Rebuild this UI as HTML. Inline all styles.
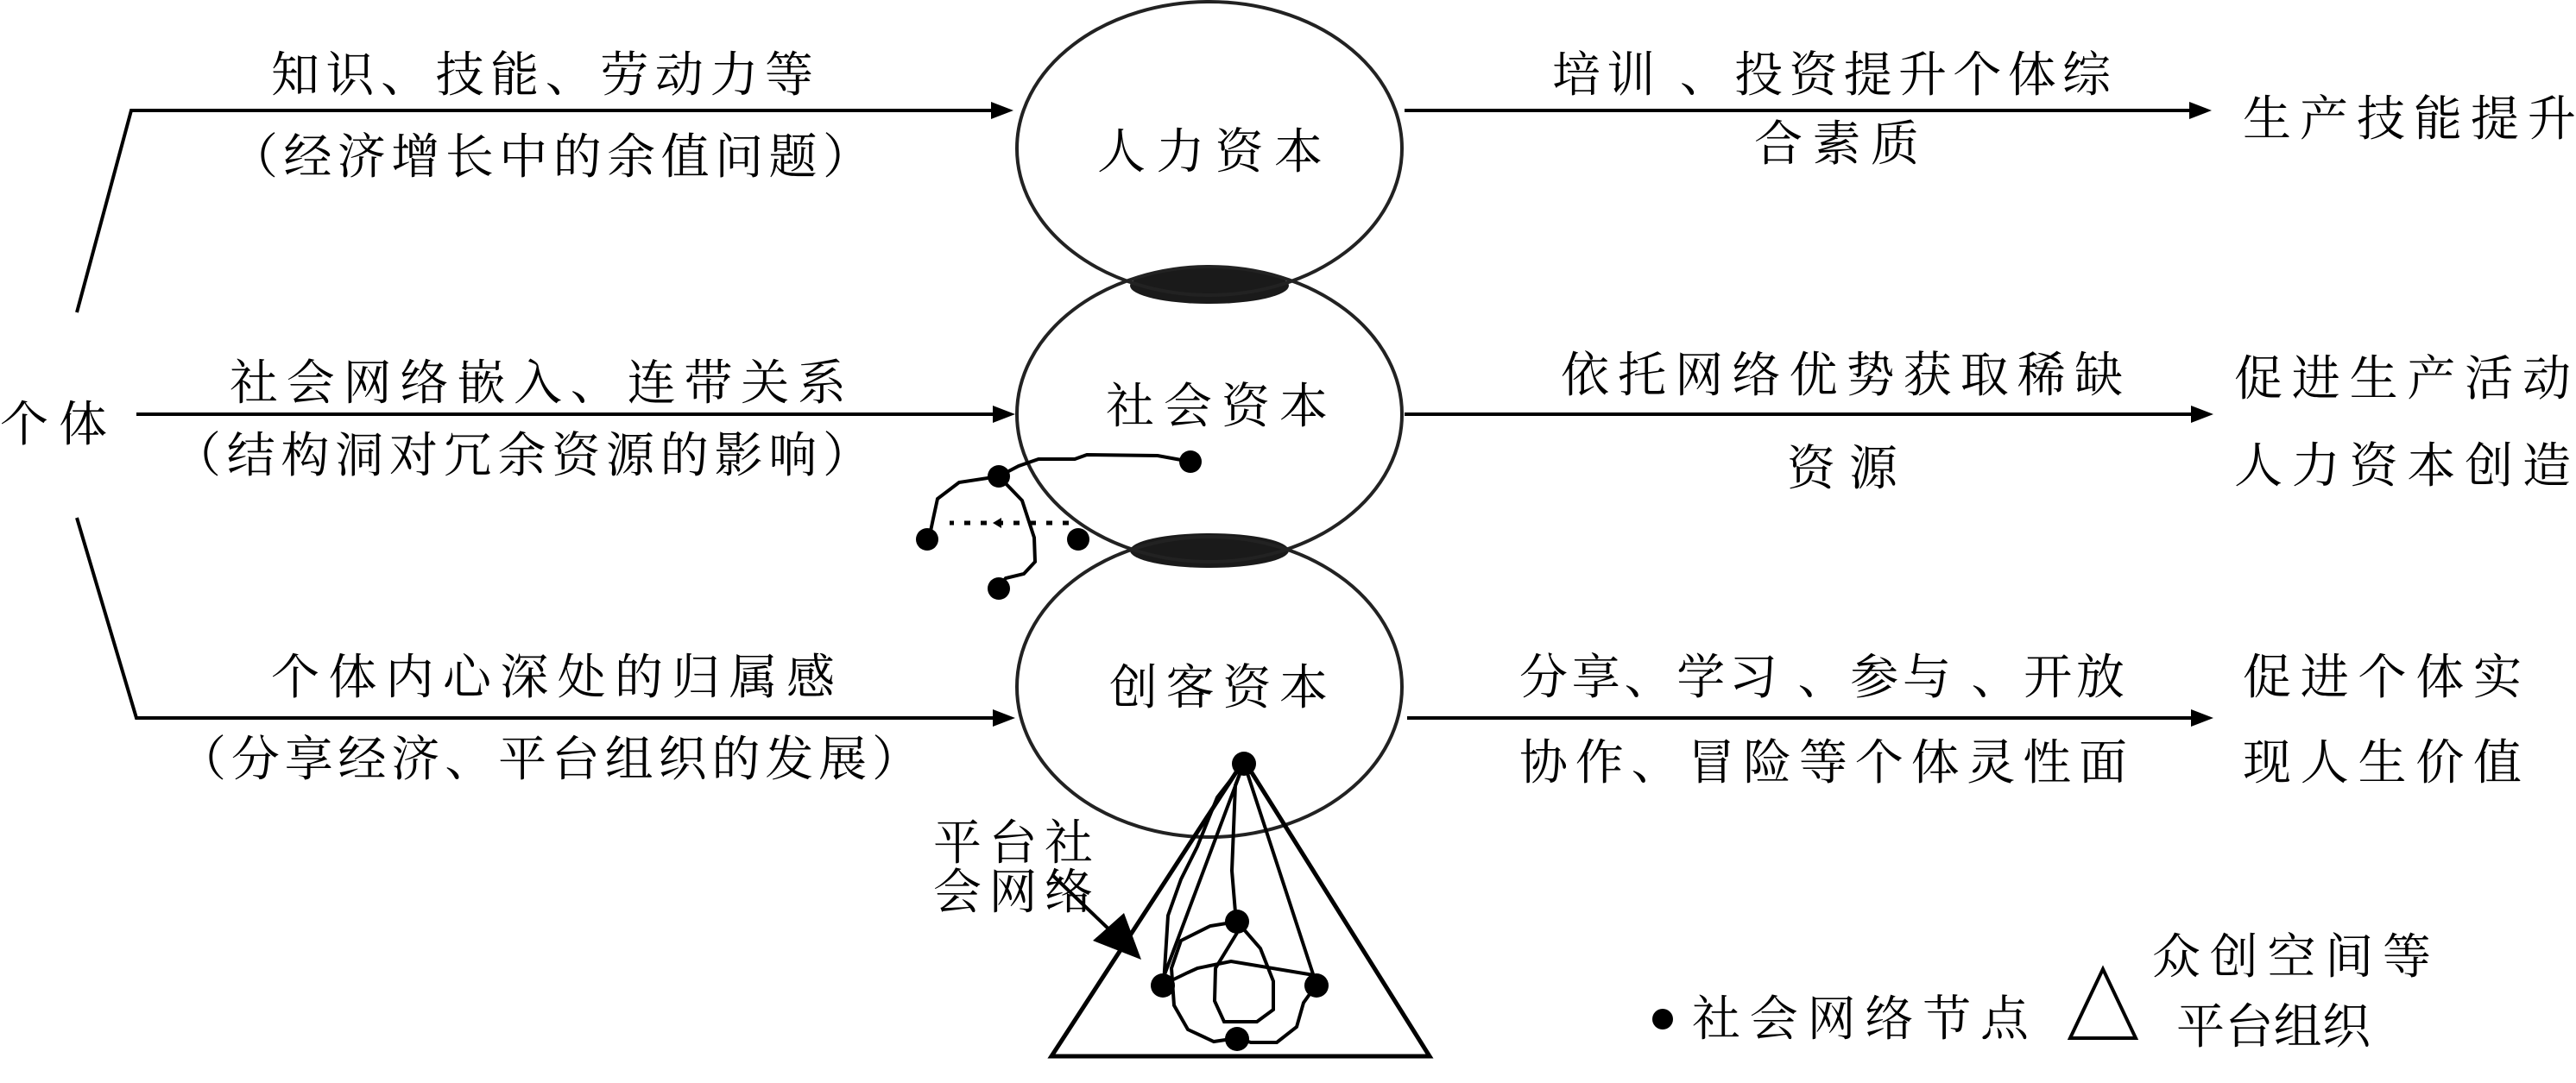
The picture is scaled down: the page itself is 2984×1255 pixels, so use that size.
<!DOCTYPE html>
<html><head><meta charset="utf-8"><style>
html,body{margin:0;padding:0;background:#fff;width:2984px;height:1255px;overflow:hidden}
svg{display:block}
text{font-family:"Liberation Serif","Noto Serif CJK SC","Noto Sans CJK SC",serif;font-size:56px;fill:#000}
</style></head><body>
<svg width="2984" height="1255" viewBox="0 0 2984 1255" xmlns="http://www.w3.org/2000/svg">
<defs>
<marker id="ah" markerWidth="10" markerHeight="8" refX="9" refY="4" orient="auto" markerUnits="userSpaceOnUse" viewBox="0 0 10 8">
</marker>
</defs>
<g stroke="#000" stroke-width="4" fill="none">
<!-- left connectors -->
<polyline points="89,362 152,128 1150,128"/>
<line x1="158" y1="480" x2="1152" y2="480"/>
<polyline points="89,600 158,832 1152,832"/>
<!-- right arrows -->
<line x1="1627" y1="128" x2="2540" y2="128"/>
<line x1="1627" y1="480" x2="2542" y2="480"/>
<line x1="1630" y1="832" x2="2542" y2="832"/>
</g>
<g fill="#000">
<polygon points="1174,128 1148,118 1148,138"/>
<polygon points="1176,480 1150,470 1150,490"/>
<polygon points="1176,832 1150,822 1150,842"/>
<polygon points="2562,128 2536,118 2536,138"/>
<polygon points="2564,480 2538,470 2538,490"/>
<polygon points="2564,832 2538,822 2538,842"/>
</g>
<!-- lenses -->
<ellipse cx="1401" cy="331" rx="92" ry="21" fill="#1a1a1a"/>
<ellipse cx="1401" cy="638" rx="92" ry="20" fill="#1a1a1a"/>
<!-- ellipses -->
<g stroke="#222" stroke-width="4" fill="none">
<ellipse cx="1401" cy="172" rx="223" ry="170"/>
<ellipse cx="1401" cy="480" rx="223" ry="171"/>
<ellipse cx="1401" cy="796" rx="223" ry="174"/>
</g>
<!-- social network near middle -->
<g stroke="#000" stroke-width="4" fill="none">
<polyline points="1157,552 1180,540 1203,532 1245,532 1259,527 1341,528 1379,535"/>
<polyline points="1157,552 1111,559 1086,578 1081,601 1076,625"/>
<polyline points="1157,552 1184,580 1198,623 1199,651 1186,665 1165,670 1157,680"/>
<line x1="1238" y1="606" x2="1100" y2="606" stroke-dasharray="7,12" stroke-width="5"/>
</g>
<polygon points="1150,606 1160,600 1160,612" fill="#000"/>
<g fill="#000">
<circle cx="1157" cy="552" r="13"/>
<circle cx="1379" cy="535" r="13"/>
<circle cx="1074" cy="625" r="13"/>
<circle cx="1249" cy="625" r="13"/>
<circle cx="1157" cy="682" r="13"/>
</g>
<!-- triangle and platform network -->
<polygon points="1441,881 1218,1224 1656,1224" stroke="#000" stroke-width="5" fill="none"/>
<g stroke="#000" stroke-width="4" fill="none">
<polyline points="1441,884 1410,924 1387,981 1368,1019 1353,1061 1348,1140"/>
<line x1="1441" y1="884" x2="1345" y2="1140"/>
<polyline points="1441,884 1431,910 1427,1009 1431,1057 1433,1068"/>
<line x1="1441" y1="884" x2="1525" y2="1141"/>
<polyline points="1433,1068 1402,1073 1368,1090 1357,1122 1360,1165 1376,1193 1406,1207 1433,1203"/>
<polyline points="1433,1068 1460,1099 1475,1137 1475,1170 1456,1184 1418,1184 1407,1160 1408,1122 1433,1081"/>
<polyline points="1347,1141 1376,1127 1387,1122 1426,1114 1522,1130"/>
<polyline points="1525,1141 1510,1162 1502,1190 1479,1208 1449,1208 1433,1203"/>
</g>
<g fill="#000">
<circle cx="1441" cy="885" r="14"/>
<circle cx="1433" cy="1068" r="14"/>
<circle cx="1347" cy="1142" r="14"/>
<circle cx="1525" cy="1142" r="14"/>
<circle cx="1433" cy="1204" r="14"/>
</g>
<!-- pointer arrow -->
<line x1="1219" y1="1014" x2="1290" y2="1082" stroke="#000" stroke-width="4"/>
<polygon points="1322,1112 1266,1090 1302,1058" fill="#000"/>
<!-- legend -->
<circle cx="1926" cy="1181" r="12" fill="#000"/>
<polygon points="2436,1123 2398,1203 2474,1203" stroke="#000" stroke-width="4" fill="none"/>
<!-- texts -->
<text x="0" y="511" textLength="124" lengthAdjust="spacing">个体</text>
<text x="314" y="106" textLength="628" lengthAdjust="spacing">知识、技能、劳动力等</text>
<text x="266" y="201" textLength="743" lengthAdjust="spacing">（经济增长中的余值问题）</text>
<text x="266" y="463" textLength="714" lengthAdjust="spacing">社会网络嵌入、连带关系</text>
<text x="200" y="547" textLength="809" lengthAdjust="spacing">（结构洞对冗余资源的影响）</text>
<text x="314" y="804" textLength="653" lengthAdjust="spacing">个体内心深处的归属感</text>
<text x="206" y="899" textLength="860" lengthAdjust="spacing">（分享经济、平台组织的发展）</text>
<text x="1271" y="195" textLength="261" lengthAdjust="spacing">人力资本</text>
<text x="1281" y="490" textLength="257" lengthAdjust="spacing">社会资本</text>
<text x="1285" y="816" textLength="253" lengthAdjust="spacing">创客资本</text>
<text x="1798" y="106" textLength="647" lengthAdjust="spacing">培训 、投资提升个体综</text>
<text x="2032" y="186" textLength="191" lengthAdjust="spacing">合素质</text>
<text x="1808" y="454" textLength="651" lengthAdjust="spacing">依托网络优势获取稀缺</text>
<text x="2070" y="562" textLength="128" lengthAdjust="spacing">资源</text>
<text x="1760" y="804" textLength="701" lengthAdjust="spacing">分享、学习 、参与 、开放</text>
<text x="1760" y="903" textLength="704" lengthAdjust="spacing">协作、冒险等个体灵性面</text>
<text x="2598" y="157" textLength="386" lengthAdjust="spacing">生产技能提升</text>
<text x="2588" y="458" textLength="390" lengthAdjust="spacing">促进生产活动</text>
<text x="2588" y="559" textLength="390" lengthAdjust="spacing">人力资本创造</text>
<text x="2598" y="804" textLength="323" lengthAdjust="spacing">促进个体实</text>
<text x="2598" y="903" textLength="323" lengthAdjust="spacing">现人生价值</text>
<text x="1081" y="996" textLength="185" lengthAdjust="spacing">平台社</text>
<text x="1081" y="1053" textLength="185" lengthAdjust="spacing">会网络</text>
<text x="1960" y="1200" textLength="390" lengthAdjust="spacing">社会网络节点</text>
<text x="2493" y="1128" textLength="323" lengthAdjust="spacing">众创空间等</text>
<text x="2521" y="1209" textLength="225" lengthAdjust="spacing">平台组织</text>
</svg>
</body></html>
